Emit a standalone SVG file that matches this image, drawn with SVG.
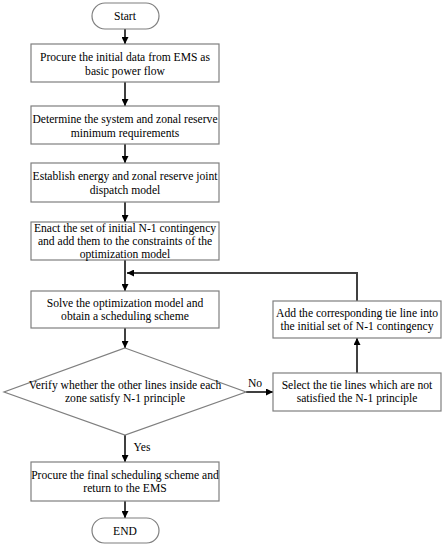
<svg xmlns="http://www.w3.org/2000/svg" width="444" height="550" viewBox="0 0 444 550">
<defs>
<marker id="ah" viewBox="0 0 10 10" refX="10" refY="5" markerWidth="7" markerHeight="7" markerUnits="userSpaceOnUse" orient="auto"><path d="M0,0 L10,5 L0,10 z" fill="#000"/></marker>
<style>
.box{fill:#fff;stroke:#7f7f7f;stroke-width:1.2}
.t{font-family:'Liberation Serif','Times New Roman',serif;font-size:11.6px;fill:#000;text-anchor:middle}
.c{fill:none;stroke:#404040;stroke-width:2;marker-end:url(#ah)}
</style>
</defs>
<rect width="444" height="550" fill="#fff"/>
<g id="connectors">
<path class="c" d="M125,29 V44"/>
<path class="c" d="M125,82 V106"/>
<path class="c" d="M125,144 V163"/>
<path class="c" d="M125,202 V222"/>
<path class="c" d="M125,260 V291"/>
<path class="c" d="M125,328 V348"/>
<path class="c" d="M246,392 H273"/>
<path class="c" d="M357,373 V338"/>
<path class="c" d="M357,301 V273 H127"/>
<path class="c" d="M125,435 V462"/>
<path class="c" d="M125,501 V518"/>
<text class="t" x="255" y="387">No</text>
<text class="t" x="142" y="451">Yes</text>
</g>
<g id="start"><rect class="box" x="92" y="3" width="67" height="26" rx="13"/><text class="t" x="125" y="20">Start</text></g>
<g id="n1"><rect class="box" x="31" y="44" width="188" height="38"/><text class="t" x="125" y="61">Procure the initial data from EMS as</text><text class="t" x="125" y="75">basic power flow</text></g>
<g id="n2"><rect class="box" x="31" y="106" width="188" height="38"/><text class="t" x="125" y="123">Determine the system and zonal reserve</text><text class="t" x="125" y="137">minimum requirements</text></g>
<g id="n3"><rect class="box" x="31" y="163" width="188" height="39"/><text class="t" x="125" y="180">Establish energy and zonal reserve joint</text><text class="t" x="125" y="194">dispatch model</text></g>
<g id="n4"><rect class="box" x="31" y="222" width="188" height="38"/><text class="t" x="125" y="232">Enact the set of initial N-1 contingency</text><text class="t" x="125" y="245">and add them to the constraints of the</text><text class="t" x="125" y="258">optimization model</text></g>
<g id="n5"><rect class="box" x="31" y="291" width="188" height="37"/><text class="t" x="125" y="307">Solve the optimization model and</text><text class="t" x="125" y="320">obtain a scheduling scheme</text></g>
<g id="dec"><path class="box" d="M125,348 L246,392 L125,435 L4,392 Z"/><text class="t" x="125" y="389">Verify whether the other lines inside each</text><text class="t" x="125" y="402">zone satisfy N-1 principle</text></g>
<g id="add"><rect class="box" x="273" y="301" width="168" height="37"/><text class="t" x="357" y="317">Add the corresponding tie line into</text><text class="t" x="357" y="330">the initial set of  N-1 contingency</text></g>
<g id="sel"><rect class="box" x="273" y="373" width="168" height="38"/><text class="t" x="357" y="389">Select the tie lines which are not</text><text class="t" x="357" y="402">satisfied the N-1 principle</text></g>
<g id="fin"><rect class="box" x="31" y="462" width="188" height="39"/><text class="t" x="125" y="479">Procure the final scheduling scheme and</text><text class="t" x="125" y="492">return to the EMS</text></g>
<g id="end"><rect class="box" x="92" y="518" width="67" height="25" rx="12.5"/><text class="t" x="125" y="535">END</text></g>
</svg>
